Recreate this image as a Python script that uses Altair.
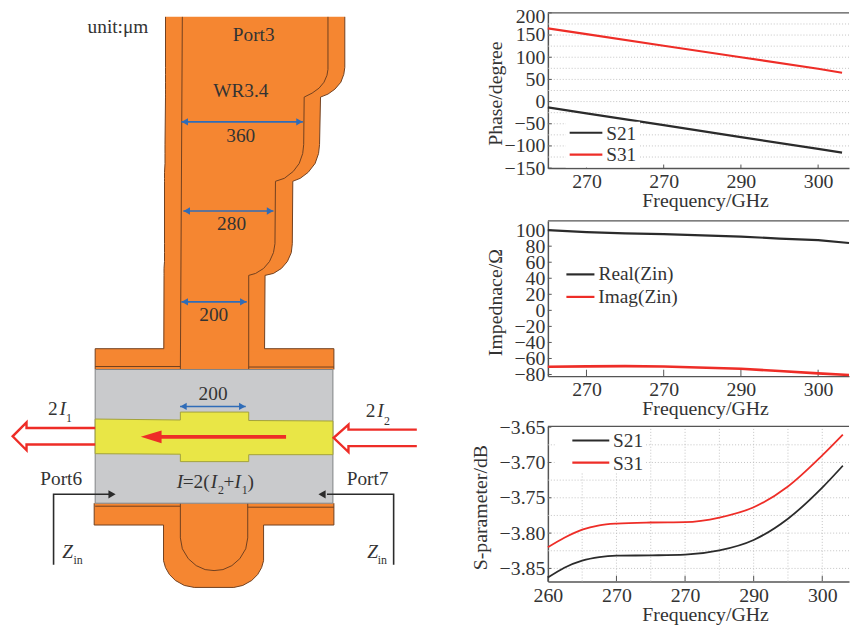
import altair as alt

# ---------- values ----------
PHASE_F = [265, 270, 280, 290, 300, 303.1]
PHASE_S21 = [-13, -26.5, -53, -80, -106.5, -115]
PHASE_S31 = [165, 152, 126, 100, 74, 65]
PHASE_YTICKS = [-150, -100, -50, 0, 50, 100, 150, 200]
PHASE_GRID = [-125, -100, -75, -50, -25, 0, 25, 50, 75, 100, 125, 150, 175]

IMP_F = [265, 270, 275, 280, 290, 295, 300, 304]
IMP_REAL = [100, 97.5, 96, 95, 92, 89.5, 87.5, 84]
IMP_IMAG = [-70.4, -69.8, -69.5, -70, -72.8, -75.7, -78.6, -80.5]
IMP_YTICKS = [-80, -60, -40, -20, 0, 20, 40, 60, 80, 100]

SP_F = [260, 262.4, 265, 267.5, 270, 275, 280, 285, 290, 295, 300, 303]
SP_S21 = [-3.863, -3.849, -3.839, -3.834, -3.832, -3.8315, -3.8305, -3.8245, -3.8097, -3.7796, -3.7356, -3.7046]
SP_S31 = [-3.82, -3.8065, -3.795, -3.789, -3.7866, -3.785, -3.7845, -3.778, -3.7634, -3.734, -3.69, -3.6606]
SP_YTICKS = [-3.85, -3.80, -3.75, -3.70, -3.65]
SP_YGRID = [-3.85, -3.825, -3.80, -3.775, -3.75, -3.725, -3.70, -3.675]
SP_XGRID = [265, 270, 275, 280, 285, 290, 295, 300]

# ---------- schematic outlines, in picture units ----------
TOWER_Y = [14, 65, 72, 80, 87, 92, 95, 143, 152, 162, 171, 177, 180, 243, 252, 261, 268, 273, 275, 352]
TOWER_L = [167, 167, 167, 167, 167, 167, 167, 166.5, 166.5, 166.5, 166, 166, 166, 166, 166, 166, 165.5, 165.5, 165.5, 165]
TOWER_R = [348, 348, 347, 344, 338, 331, 323.5, 322.5, 321.5, 318, 311, 303, 295.5, 295, 294, 290, 284, 276, 267.5, 267]

INNER_R = [(331, 14), (331, 67), (330, 73), (327, 80), (322, 86), (315, 91), (307, 95), (306.5, 143),
           (305.5, 152), (302, 162), (296, 170), (287, 177), (278, 180), (277.5, 243), (276, 252),
           (272, 261), (266, 268), (258, 273), (251, 275), (251, 370)]
INNER_U = [(182, 505), (182, 540), (184, 551), (190, 561), (198, 568), (207, 572), (216, 573), (225, 572),
           (234, 568), (242, 561), (248, 551), (250, 540), (250, 505)]
STUB_Y = [526, 563, 570, 577, 583, 588, 590]
STUB_L = [165, 165, 167, 171, 177, 186, 196]
STUB_R = [266, 266, 264, 260, 254, 245, 236]
YELLOW_X = [96, 182, 182, 251, 251, 336]
YELLOW_T = [420, 421, 413, 413, 421.5, 422]
YELLOW_B = [455, 455.5, 463, 463, 456, 456]

BROWN_PATHS = {
    "towerL": list(zip(TOWER_L[:-1], TOWER_Y[:-1])) + [(165.3, 349)],
    "towerR": list(zip(TOWER_R[:-1], TOWER_Y[:-1])) + [(267, 349)],
    "innerL": [(184, 14), (182, 370)],
    "innerR": INNER_R,
    "flangeL": [(165.3, 349), (96, 349), (96, 370)],
    "flangeR": [(267, 349), (337, 349), (337, 370)],
    "lineA": [(96, 367), (182, 367)],
    "lineB": [(251, 367.5), (337, 367.5)],
    "base": [(95, 505), (95, 527), (165, 527), (165, 563), (167, 570), (171, 577), (177, 583), (186, 588),
             (196, 590), (236, 590), (245, 588), (254, 583), (260, 577), (264, 570), (266, 563), (266, 527),
             (337, 527), (337, 505)],
    "lineC": [(96, 508), (182, 508)],
    "lineD": [(250, 509), (337, 509)],
    "inner": INNER_U,
}
RED_HOLLOW = {
    "left": [(96, 429), (26.7, 429), (26.7, 423.5), (12.7, 437.5), (26.7, 451.5), (26.7, 445.7), (96, 445.7)],
    "right": [(420.7, 430.7), (351.7, 430.7), (351.7, 425.7), (336.7, 439), (351.7, 453.3), (351.7, 447.3), (420.7, 447.3)],
}
BLACK_PATHS = {
    "p6": [(54, 567), (54, 496), (110, 496)],
    "p7": [(397.3, 567), (397.3, 496), (330, 496)],
}
BLUE_SPANS = [(183, 305.7, 120), (185, 276, 210), (183, 249, 301.7), (181.7, 248, 407.3)]
BLACK_HEADS_R = [(113, 496)]
BLACK_HEADS_L = [(325, 496)]

TXT = [("unit:μm", 119, 24), ("Port3", 256, 32), ("WR3.4", 243, 89), ("360", 243, 134.3), ("280", 233.7, 223),
       ("200", 215.7, 315), ("200", 215, 394.3), ("Port6", 61.7, 480.7), ("Port7", 371, 480.7),
       ("2", 53.3, 410), ("2", 374, 411.7), ("=2(", 198, 484), ("+", 231, 484), (")", 253, 484),
       ("S21", 627, 132), ("S31", 627, 154),
       ("Real(Zin)", 642, 274), ("Imag(Zin)", 644, 297),
       ("S21", 634, 442), ("S31", 634, 465)]
TXT_IT = [("I", 63.3, 410), ("I", 384, 411.7), ("I", 181.5, 484), ("I", 216, 484), ("I", 240, 484),
          ("Z", 68.3, 554), ("Z", 376, 554)]
TXT_SUB = [("1", 69.6, 419), ("2", 390.5, 421.7), ("2", 223, 491.7), ("1", 247, 491.7), ("in", 78.7, 562), ("in", 386, 562)]

LEG_BLACK = [(575, 608, 131), (571.7, 600, 274), (577.7, 615, 441.7)]
LEG_RED = [(575, 608, 153), (571.7, 600, 296.7), (577.7, 615, 464)]
LEG_MASK = [(571, 646, 120, 166), (560, 652, 429, 474)]

# ---------- styles ----------
FONT = "Liberation Serif"
ORANGE, BROWN = "#f58631", "#70401f"
GRAY, GRAYLINE = "#c9cacc", "#808285"
YELLOW, YELLOWLINE = "#e9e646", "#a3a23a"
RED, BLUE, DARK, INK = "#ee2d27", "#2f6cb8", "#2b2b2b", "#333333"
W, H = 850, 617

SX = lambda: alt.Scale(domain=[0, 858], range=[-8, 850], nice=False, zero=False)
SY = lambda: alt.Scale(domain=[0, 625], range=[-8, 617], nice=False, zero=False)


def xp(f="x"):
    return alt.X(f"{f}:Q", scale=SX(), axis=None)


def yp(f="y"):
    return alt.Y(f"{f}:Q", scale=SY(), axis=None)


def paths(dct, color, width):
    rows = [{"g": k, "i": i, "x": p[0], "y": p[1]} for k, v in dct.items() for i, p in enumerate(v)]
    return alt.Chart(alt.Data(values=rows)).mark_line(color=color, strokeWidth=width, strokeJoin="miter").encode(
        x=xp(), y=yp(), detail="g:N", order="i:Q")


def rect(x1, x2, y1, y2, fill, stroke=None, sw=1):
    kw = {"stroke": stroke, "strokeWidth": sw} if stroke else {"strokeWidth": 0}
    return alt.Chart(alt.Data(values=[{"a": x1, "b": x2, "c": y1, "d": y2}])).mark_rect(color=fill, **kw).encode(
        x=xp("a"), x2="b:Q", y=yp("c"), y2="d:Q")


def h_area(ys, ls, rs, fill, stroke=None):
    rows = [{"y": a, "l": b, "r": c} for a, b, c in zip(ys, ls, rs)]
    kw = {"stroke": stroke, "strokeWidth": 1} if stroke else {}
    return alt.Chart(alt.Data(values=rows)).mark_area(color=fill, orient="horizontal", **kw).encode(
        y=yp(), x=xp("l"), x2="r:Q")


def v_area(xs, ts, bs, fill, stroke=None):
    rows = [{"x": a, "t": b, "b": c} for a, b, c in zip(xs, ts, bs)]
    kw = {"stroke": stroke, "strokeWidth": 1} if stroke else {}
    return alt.Chart(alt.Data(values=rows)).mark_area(color=fill, orient="vertical", **kw).encode(
        x=xp(), y=yp("t"), y2="b:Q")


def texts(items, size, style="normal", color=INK):
    rows = [{"t": t, "x": x, "y": y} for t, x, y in items]
    return alt.Chart(alt.Data(values=rows)).mark_text(
        font=FONT, fontSize=size, fontStyle=style, color=color, align="center", baseline="middle"
    ).encode(x=xp(), y=yp(), text="t:N")


def heads(items, shape, color, size):
    rows = [{"x": x, "y": y} for x, y in items]
    return alt.Chart(alt.Data(values=rows)).mark_point(
        shape=shape, filled=True, color=color, size=size, opacity=1, strokeWidth=0
    ).encode(x=xp(), y=yp())


def spans(items, color, width):
    rows = [{"a": a, "b": b, "y": y} for a, b, y in items]
    return alt.Chart(alt.Data(values=rows)).mark_rule(color=color, strokeWidth=width).encode(
        x=xp("a"), x2="b:Q", y=yp())


def panel(fs, s1, s2, xdom, xrng, ydom, yrng, xticks, xlab, yticks, yfmt, ytitle, ytitle_x,
          ytitle_y, xtitle_y, lab_pad, xtick_len, ytick_len, ygrid=(), xgrid=(), curve="linear", w1=2.2, w2=2,
          y_label_offset=None):
    xs = lambda: alt.Scale(domain=xdom, range=xrng, nice=False, zero=False)
    ys = lambda: alt.Scale(domain=ydom, range=yrng, nice=False, zero=False)
    nx = lambda f="x": alt.X(f"{f}:Q", scale=xs(), axis=None)
    ny = lambda f="y": alt.Y(f"{f}:Q", scale=ys(), axis=None)
    out = []
    grid = dict(color="#bdbdbd", strokeWidth=0.9, strokeDash=[1, 2])
    if len(ygrid):
        out.append(alt.Chart(alt.Data(values=[{"y": v, "a": xdom[0], "b": xdom[1]} for v in ygrid]))
                   .mark_rule(**grid).encode(x=nx("a"), x2="b:Q", y=ny()))
    if len(xgrid):
        out.append(alt.Chart(alt.Data(values=[{"x": v, "a": ydom[0], "b": ydom[1]} for v in xgrid]))
                   .mark_rule(**grid).encode(x=nx(), y=ny("a"), y2="b:Q"))
    # inward tick marks and the top edge
    out.append(alt.Chart(alt.Data(values=[{"x": v, "a": ydom[0], "b": ydom[0] + xtick_len} for v in xticks]))
               .mark_rule(color="#555555", strokeWidth=1).encode(x=nx(), y=ny("a"), y2="b:Q"))
    out.append(alt.Chart(alt.Data(values=[{"y": v, "a": xdom[0], "b": xdom[0] + ytick_len} for v in yticks]))
               .mark_rule(color="#555555", strokeWidth=1).encode(x=nx("a"), x2="b:Q", y=ny()))
    out.append(alt.Chart(alt.Data(values=[{"y": ydom[1], "a": xdom[0], "b": xdom[1]}]))
               .mark_rule(color="#555555", strokeWidth=1.3).encode(x=nx("a"), x2="b:Q", y=ny()))
    ax = dict(labelFont=FONT, labelFontSize=20, labelColor=INK, titleFont=FONT, titleFontSize=20,
              titleColor=INK, titleFontWeight="normal", tickSize=0, grid=False, domainColor="#555555",
              domainWidth=1.5, labelOverlap=False, labelFlush=False, labelBound=False, titleAlign="center",
              titleBaseline="middle")
    xaxis = alt.Axis(orient="bottom", values=xticks, labelExpr=xlab, title="Frequency/GHz",
                     offset=-(H - yrng[0]), labelPadding=lab_pad, titleX=(xrng[0] + 158.7), titleY=xtitle_y,
                     **ax)
    extra = {"labelOffset": y_label_offset} if y_label_offset else {}
    yaxis = alt.Axis(orient="left", values=yticks, format=yfmt, title=ytitle, offset=-xrng[0], labelPadding=3,
                     titleX=ytitle_x - xrng[0] - 8, titleY=ytitle_y - 8, titleAngle=-90, **extra, **ax)
    first = True
    for vals, col, sw in ((s1, DARK, w1), (s2, RED, w2)):
        rows = [{"x": a, "y": b} for a, b in zip(fs, vals)]
        enc = dict(x=alt.X("x:Q", scale=xs(), axis=xaxis), y=alt.Y("y:Q", scale=ys(), axis=yaxis)) if first else \
            dict(x=nx(), y=ny())
        out.append(alt.Chart(alt.Data(values=rows)).mark_line(color=col, strokeWidth=sw, interpolate=curve).encode(**enc))
        first = False
    return out


layers = []
# schematic
layers.append(rect(96, 337, 349, 370, ORANGE))
layers.append(h_area(TOWER_Y, TOWER_L, TOWER_R, ORANGE))
layers.append(rect(95, 337, 505, 527, ORANGE))
layers.append(h_area(STUB_Y, STUB_L, STUB_R, ORANGE))
layers.append(paths(BROWN_PATHS, BROWN, 1))
layers.append(rect(96, 336, 370, 505, GRAY, GRAYLINE, 1))
layers.append(v_area(YELLOW_X, YELLOW_T, YELLOW_B, YELLOW, YELLOWLINE))
layers.append(spans(BLUE_SPANS, BLUE, 1.6))
layers.append(heads([(a + 3.5, y) for a, b, y in BLUE_SPANS], "triangle-left", BLUE, 55))
layers.append(heads([(b - 3.5, y) for a, b, y in BLUE_SPANS], "triangle-right", BLUE, 55))
layers.append(paths(RED_HOLLOW, RED, 2.4))
layers.append(spans([(160, 288.7, 438)], RED, 4))
layers.append(v_area([142, 163], [438, 431.5], [438, 444.5], RED))
layers.append(paths(BLACK_PATHS, DARK, 1.6))
layers.append(heads(BLACK_HEADS_R, "triangle-right", DARK, 70))
layers.append(heads(BLACK_HEADS_L, "triangle-left", DARK, 70))

# charts
layers += panel(PHASE_F, PHASE_S21, PHASE_S31, [265, 304], [545, 849], [-150, 200], [158.7, 2],
                [270, 280, 290, 300], "datum.value==280?'270':datum.label", PHASE_YTICKS, "d",
                "Phase/degree", 500, 91, 33, 4, 8, 0.5, ygrid=PHASE_GRID, w1=2.2, w2=2.2,
                y_label_offset={"condition": {"test": "datum.value === 200", "value": 3.5}, "value": 0})
layers += panel(IMP_F, IMP_REAL, IMP_IMAG, [265, 304], [545, 849], [-82, 111.5], [368.7, 212],
                [270, 280, 290, 300], "datum.value==280?'270':datum.label", IMP_YTICKS, "d",
                "Impednace/Ω", 500, 302, 33, 4, 8, 0.5, w1=2.2, w2=2.6)
layers += panel(SP_F, SP_S21, SP_S31, [260, 303.9], [545, 849], [-3.8685, -3.649], [576, 419.5],
                [260, 270, 280, 290, 300], "datum.value==280?'270':datum.label", SP_YTICKS, ".2f",
                "S-parameter/dB", 485, 509, 33, 4, 0.008, 0.5, ygrid=SP_YGRID, xgrid=SP_XGRID, curve="monotone",
                w1=1.8, w2=1.8)

# legends and all free text
for a, b, c, d in LEG_MASK:
    layers.append(rect(a, b, c, d, "#ffffff"))
layers.append(spans(LEG_BLACK, DARK, 2.2))
layers.append(spans(LEG_RED, RED, 2.2))
layers.append(texts(TXT, 19.5))
layers.append(texts(TXT_IT, 19.5, "italic"))
layers.append(texts(TXT_SUB, 12))

chart = alt.layer(*layers).resolve_scale(x="independent", y="independent").resolve_axis(
    x="independent", y="independent"
).properties(
    width=W, height=H, autosize=alt.AutoSizeParams(type="none"), padding=0
).configure_view(stroke=None)

chart.save("out.html", embed_options={"renderer": "svg", "actions": False})
